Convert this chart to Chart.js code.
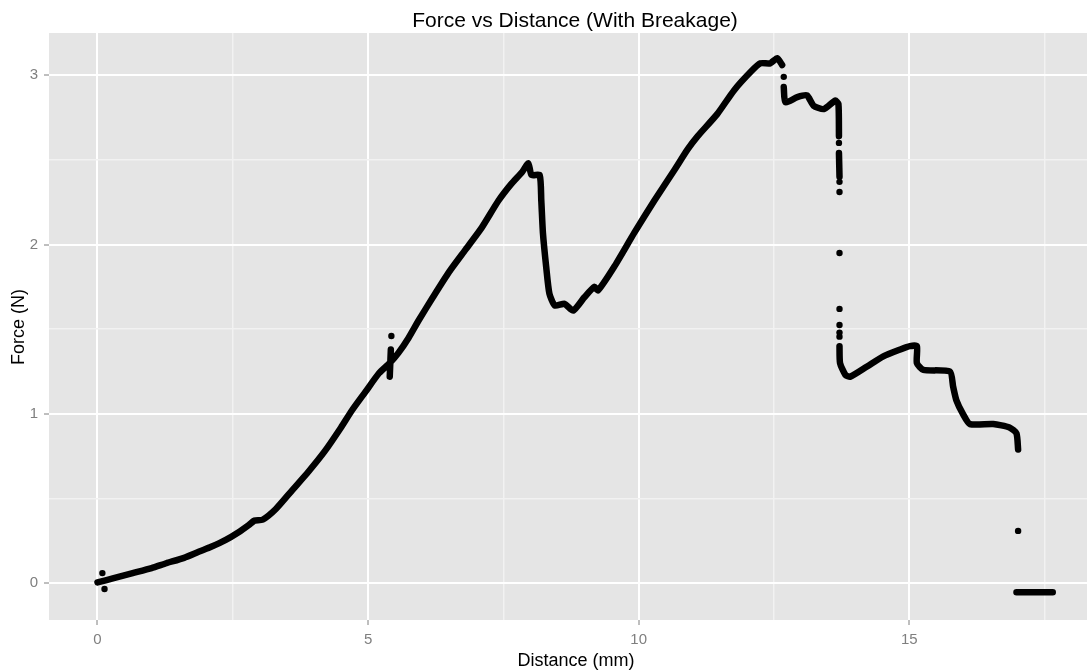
<!DOCTYPE html>
<html>
<head>
<meta charset="utf-8">
<script src="https://cdn.jsdelivr.net/npm/chart.js@4"></script>
<style>
  html, body { margin: 0; padding: 0; background: #ffffff; overflow: hidden; }
  canvas { display: block; }
</style>
</head>
<body>
<canvas id="chart" width="1091" height="671"></canvas>
<script>
const chartTitle = 'Force vs Distance (With Breakage)';
const xTitle = 'Distance (mm)';
const yTitle = 'Force (N)';

const xTicks = [0, 2.5, 5, 7.5, 10, 12.5, 15, 17.5];
const yTicks = [0, 0.5, 1, 1.5, 2, 2.5, 3];

// main trace, null breaks the band where the reading jumps
const distanceMm = [
  0.00, 0.30, 0.65, 1.00, 1.27, 1.60, 1.88, 2.10, 2.37, 2.60, 2.80, 2.90, 3.05, 3.30, 3.60, 3.90,
  4.20, 4.50, 4.70, 4.95, 5.20, 5.40, 5.56, 5.75, 5.93, 6.20, 6.50, 6.80, 7.10, 7.41, 7.65, 7.85,
  7.96, 8.02, 8.17, 8.20, 8.23, 8.29, 8.35, 8.45, 8.63, 8.79, 9.00, 9.18, 9.25, 9.55, 9.92, 10.29,
  10.66, 10.90, 11.09, 11.45, 11.76, 12.07, 12.25, 12.43, 12.56, 12.65, null,
  12.68, 12.71, 12.93, 13.11, 13.23, 13.42, 13.63, 13.69, 13.70, null,
  13.70, 13.71, null,
  13.71, 13.72, 13.82, 13.91, 14.22, 14.52, 14.83, 15.01, 15.14, 15.14, 15.26, 15.75, 15.81, 15.87,
  15.99, 16.12, 16.55, 16.85, 16.98, 17.01, null,
  5.40, 5.42, null,
  16.98, 17.65
];
const forceN = [
  0.005, 0.03, 0.06, 0.09, 0.118, 0.15, 0.187, 0.215, 0.256, 0.30, 0.345, 0.37, 0.375, 0.44, 0.55, 0.66,
  0.78, 0.92, 1.02, 1.13, 1.24, 1.30, 1.36, 1.45, 1.55, 1.69, 1.84, 1.97, 2.10, 2.26, 2.36, 2.43,
  2.48, 2.41, 2.41, 2.26, 2.07, 1.87, 1.71, 1.64, 1.65, 1.61, 1.69, 1.75, 1.73, 1.87, 2.07, 2.26,
  2.44, 2.56, 2.64, 2.77, 2.91, 3.02, 3.07, 3.07, 3.10, 3.06, null,
  2.93, 2.84, 2.87, 2.88, 2.82, 2.80, 2.85, 2.83, 2.64, null,
  2.54, 2.40, null,
  1.40, 1.30, 1.23, 1.22, 1.28, 1.34, 1.38, 1.40, 1.40, 1.30, 1.26, 1.25, 1.16, 1.08,
  1.00, 0.94, 0.94, 0.92, 0.885, 0.79, null,
  1.22, 1.38, null,
  -0.053, -0.053
];

// single readings standing apart from the band
const dotDistance = [0.09, 0.13, 5.43, 12.68, 13.70, 13.71, 13.71, 13.71, 13.71, 13.71, 13.71, 13.71, 17.01];
const dotForce = [0.06, -0.034, 1.46, 2.99, 2.60, 2.37, 2.31, 1.95, 1.62, 1.525, 1.48, 1.456, 0.309];

const mainPoints = distanceMm.map((d, i) => ({x: d === null ? NaN : d, y: forceN[i]}));
const dotPoints = dotDistance.map((d, i) => ({x: d, y: dotForce[i]}));

const panelBackground = {
  id: 'panelBackground',
  beforeDraw(chart) {
    const {ctx, chartArea} = chart;
    ctx.save();
    ctx.fillStyle = '#e5e5e5';
    ctx.fillRect(chartArea.left, chartArea.top, chartArea.right - chartArea.left, chartArea.bottom - chartArea.top);
    ctx.restore();
  },
  afterDraw(chart) {
    const ctx = chart.ctx;
    ctx.save();
    ctx.fillStyle = '#000000';
    ctx.textAlign = 'center';
    ctx.textBaseline = 'alphabetic';
    ctx.font = '21px "Liberation Sans", Arial, sans-serif';
    ctx.fillText(chartTitle, 575, 27);
    ctx.font = '18px "Liberation Sans", Arial, sans-serif';
    ctx.fillText(xTitle, 576, 666);
    ctx.translate(24, 327);
    ctx.rotate(-Math.PI / 2);
    ctx.fillText(yTitle, 0, 0);
    ctx.restore();
  }
};

const isMajor = (v, step) => Math.abs(v / step - Math.round(v / step)) < 1e-6;

new Chart(document.getElementById('chart'), {
  type: 'scatter',
  data: {
    datasets: [
      {
        label: 'trace',
        data: mainPoints,
        showLine: true,
        spanGaps: false,
        tension: 0.2,
        borderColor: '#000000',
        borderWidth: 6.5,
        borderCapStyle: 'round',
        borderJoinStyle: 'round',
        pointRadius: 0,
        pointHoverRadius: 0
      },
      {
        label: 'dots',
        data: dotPoints,
        backgroundColor: '#000000',
        borderColor: '#000000',
        pointRadius: 3.2,
        pointBorderWidth: 0
      }
    ]
  },
  options: {
    responsive: false,
    animation: false,
    devicePixelRatio: 1,
    layout: {padding: {top: 33, left: 0, right: 0, bottom: 0}},
    plugins: {
      legend: {display: false},
      title: {display: false},
      tooltip: {enabled: false}
    },
    scales: {
      x: {
        type: 'linear',
        min: -0.896,
        max: 18.283,
        afterBuildTicks: scale => { scale.ticks = xTicks.map(v => ({value: v})); },
        afterFit: scale => { scale.height = 51; },
        border: {display: false},
        grid: {
          color: ctx => isMajor(ctx.tick.value, 5) ? '#ffffff' : '#f2f2f2',
          lineWidth: ctx => isMajor(ctx.tick.value, 5) ? 2 : 1.5,
          tickColor: ctx => isMajor(ctx.tick.value, 5) ? '#7f7f7f' : 'rgba(0,0,0,0)',
          tickLength: 5,
          tickWidth: 1
        },
        ticks: {
          autoSkip: false,
          maxRotation: 0,
          padding: 6,
          color: '#7f7f7f',
          font: {family: '"Liberation Sans", Arial, sans-serif', size: 15},
          callback: v => isMajor(v, 5) ? String(v) : ''
        }
      },
      y: {
        type: 'linear',
        min: -0.217,
        max: 3.249,
        afterBuildTicks: scale => { scale.ticks = yTicks.map(v => ({value: v})); },
        afterFit: scale => { scale.width = 49; },
        border: {display: false},
        grid: {
          color: ctx => isMajor(ctx.tick.value, 1) ? '#ffffff' : '#f2f2f2',
          lineWidth: ctx => isMajor(ctx.tick.value, 1) ? 2 : 1.5,
          tickColor: ctx => isMajor(ctx.tick.value, 1) ? '#7f7f7f' : 'rgba(0,0,0,0)',
          tickLength: 5,
          tickWidth: 1
        },
        ticks: {
          autoSkip: false,
          padding: 6,
          color: '#7f7f7f',
          font: {family: '"Liberation Sans", Arial, sans-serif', size: 15},
          callback: v => isMajor(v, 1) ? String(v) : ''
        }
      }
    }
  },
  plugins: [panelBackground]
});
</script>
</body>
</html>
